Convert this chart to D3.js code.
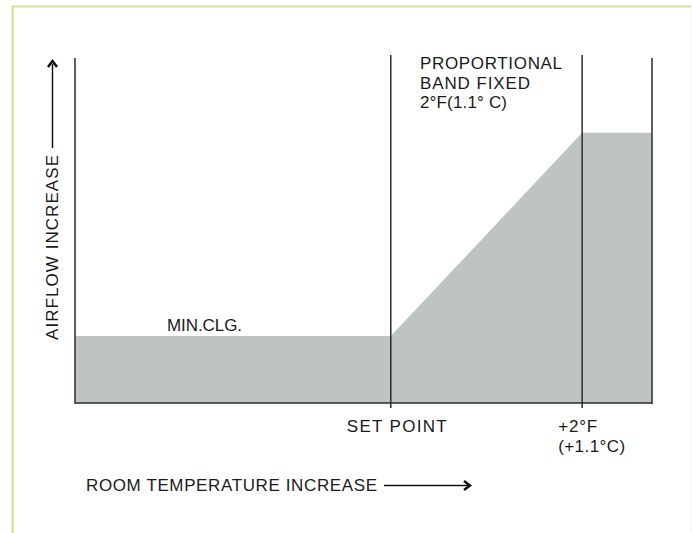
<!DOCTYPE html>
<html><head><meta charset="utf-8">
<script src="https://cdn.jsdelivr.net/npm/d3@7"></script>
<style>
html,body{margin:0;padding:0;background:#fff;}
svg text{font-family:"Liberation Sans",Arial,sans-serif;fill:#1a1a1a;}
</style></head>
<body>
<script>
// Data: temperature relative to set point (°F) and airflow (% of range)
const tempPoints = [-3.3, 0, 2, 2.73];
const airflowValues = [19.4, 19.4, 78.3, 78.3];
const guideTemps = [0, 2];               // vertical guide lines with ticks
const tickLabels = [["SET POINT"], ["+2°F", "(+1.1°C)"]];
const bandLabel = ["PROPORTIONAL", "BAND FIXED", "2°F(1.1° C)"];
const minLabel = "MIN.CLG.";
const xTitle = "ROOM TEMPERATURE INCREASE";
const yTitle = "AIRFLOW INCREASE";

const W = 692, H = 533;
const svg = d3.select("body").append("svg").attr("width", W).attr("height", H);

// fit a text to a target width via letter-spacing
function fit(t, target) {
  const n = t.text().length;
  const w = t.node().getComputedTextLength();
  t.attr("letter-spacing", ((target - w) / Math.max(1, n - 1)).toFixed(2));
  return t;
}
function label(xp, yp, s, size, target) {
  const t = svg.append("text").attr("x", xp).attr("y", yp).attr("font-size", size).text(s);
  return fit(t, target);
}

// frame
svg.append("path").attr("d", `M12.5,${H}V6.5H${W}`).attr("fill","none")
  .attr("stroke","#d3df8f").attr("stroke-width",2);
svg.append("line").attr("x1",691.5).attr("x2",691.5).attr("y1",6).attr("y2",H)
  .attr("stroke","#f4f4ec").attr("stroke-width",1);

const x = d3.scaleLinear().domain([tempPoints[0], tempPoints[tempPoints.length-1]]).range([75, 652]);
const y = d3.scaleLinear().domain([0, 100]).range([403, 58]);

const pts = tempPoints.map((t,i)=>[t, airflowValues[i]]);
const area = d3.area().x(d=>x(d[0])).y0(y(0)).y1(d=>y(d[1]));
svg.append("path").datum(pts).attr("d", area).attr("fill", "#bec3c4");

const stroke = "#2b2b2b";
// left axis and right edge
[tempPoints[0], tempPoints[3]].forEach(t=>{
  svg.append("line").attr("x1", x(t)).attr("x2", x(t))
    .attr("y1", y(100)).attr("y2", y(0)+0.75).attr("stroke", stroke).attr("stroke-width", 1.5);
});
// baseline
svg.append("line").attr("x1", x(tempPoints[0])).attr("x2", x(tempPoints[3])+0.75)
  .attr("y1", y(0)).attr("y2", y(0)).attr("stroke", stroke).attr("stroke-width", 1.5);
// guide lines with ticks
svg.selectAll(".guide").data(guideTemps).join("line")
  .attr("x1", d=>x(d)).attr("x2", d=>x(d))
  .attr("y1", y(100)-3).attr("y2", y(0)+5)
  .attr("stroke", stroke).attr("stroke-width", 1.5);

// tick labels
label(x(guideTemps[0]) - 44, 432, tickLabels[0][0], 17, 100);
label(x(guideTemps[1]) - 24, 432, tickLabels[1][0], 17, 39);
label(x(guideTemps[1]) - 24, 452, tickLabels[1][1], 17, 67);

// band label
const bandW = [142, 110, 87];
bandLabel.forEach((s,j)=>label(420, 69 + j*19.5, s, 17, bandW[j]));

// min label
label(167, 331, minLabel, 17, 75);

// x title with arrow
label(86, 491, xTitle, 17, 291);
svg.append("line").attr("x1", 384).attr("x2", 468).attr("y1", 485.5).attr("y2", 485.5)
  .attr("stroke", "#111").attr("stroke-width", 1.5);
svg.append("path").attr("d", "M464,481 L470,485.5 L464,490").attr("fill","none")
  .attr("stroke","#111").attr("stroke-width", 2.5);

// y title with arrow
const yt = svg.append("text").attr("transform", "translate(58,340) rotate(-90)")
  .attr("font-size", 17).text(yTitle);
fit(yt, 185);
svg.append("line").attr("x1", 52.5).attr("x2", 52.5).attr("y1", 148).attr("y2", 64)
  .attr("stroke", "#111").attr("stroke-width", 1.5);
svg.append("path").attr("d", "M48,67 L52.5,61 L57,67").attr("fill","none")
  .attr("stroke","#111").attr("stroke-width", 2.5);
</script>
</body></html>
